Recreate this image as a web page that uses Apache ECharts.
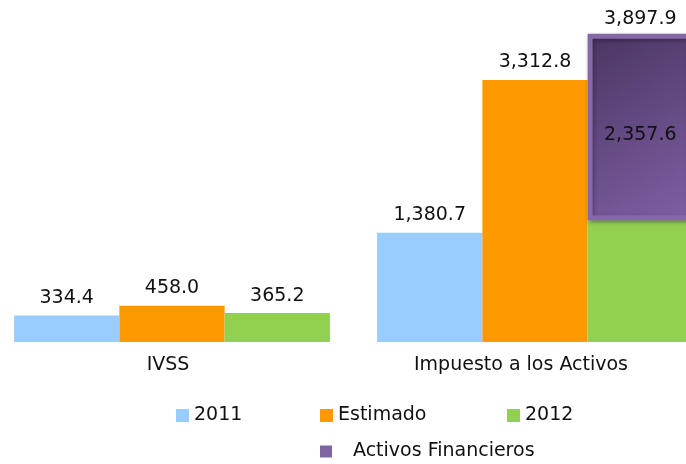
<!DOCTYPE html>
<html>
<head>
<meta charset="utf-8">
<script src="https://cdn.jsdelivr.net/npm/echarts@6/dist/echarts.min.js"></script>
<style>
  html, body { margin: 0; padding: 0; background: #fff; }
  #chart { width: 686px; height: 464px; }
</style>
</head>
<body>
<div id="chart"></div>
<script>
const categories = ['IVSS', 'Impuesto a los Activos'];
const values2011 = [334.4, 1380.7];
const valuesEstimado = [458.0, 3312.8];
const values2012 = [365.2, 1540.3];
const valuesActivos = ['-', 2357.6];

const FONT = 'DejaVu Sans';

// 1,234.5 style
const fmt = (v) => {
  const parts = Number(v).toFixed(1).split('.');
  return parts[0].replace(/\B(?=(\d{3})+(?!\d))/g, ',') + '.' + parts[1];
};

const labelStyle = {
  show: true,
  position: 'top',
  distance: 8,
  fontFamily: FONT,
  fontSize: 19,
  color: '#111',
  formatter: (p) => fmt(p.value)
};

const legendBase = {
  icon: 'rect',
  itemWidth: 13,
  itemHeight: 13,
  itemGap: 6,
  padding: 0,
  selectedMode: false,
  textStyle: { fontFamily: FONT, fontSize: 19, color: '#111' }
};

const chart = echarts.init(document.getElementById('chart'));
chart.setOption({
  animation: false,
  // categories sit on the grid edges (boundaryGap false), band = full width
  grid: { left: 172, right: 151, top: 25.6, bottom: 122 },
  legend: [
    Object.assign({}, legendBase, { left: 176, top: 406, data: ['2011'] }),
    Object.assign({}, legendBase, { left: 320, top: 406, data: ['Estimado'] }),
    Object.assign({}, legendBase, { left: 507, top: 406, data: ['2012'] }),
    Object.assign({}, legendBase, {
      left: 320, top: 442, itemWidth: 12, itemHeight: 12,
      data: [{ name: 'Activos Financieros', itemStyle: { color: '#8064a2', borderWidth: 0, shadowBlur: 0 } }],
      textStyle: { fontFamily: FONT, fontSize: 19, color: '#111', padding: [0, 0, 0, 16] }
    })
  ],
  xAxis: {
    type: 'category',
    data: categories,
    boundaryGap: false,
    axisLine: { show: false },
    axisTick: { show: false },
    axisLabel: {
      margin: 14,
      formatter: (v, i) => (i === 0 ? '{a|' + v + '}' : '{b|' + v + '}'),
      rich: {
        a: { fontFamily: FONT, fontSize: 19, color: '#111', padding: [0, 8, 0, 0] },
        b: { fontFamily: FONT, fontSize: 19, color: '#111', padding: [0, 28, 0, 0] }
      }
    }
  },
  yAxis: { type: 'value', min: 0, max: 4000, show: false, splitLine: { show: false } },
  series: [
    {
      name: '2011', type: 'bar', data: values2011, clip: false,
      barGap: '0%', barCategoryGap: '13%',
      itemStyle: { color: '#99ccff' },
      label: labelStyle
    },
    {
      name: 'Estimado', type: 'bar', data: valuesEstimado, clip: false,
      itemStyle: { color: '#ff9900' },
      label: labelStyle
    },
    {
      name: '2012', type: 'bar', stack: 's', data: values2012, clip: false,
      itemStyle: { color: '#92d050' },
      label: Object.assign({}, labelStyle, {
        formatter: (p) => (valuesActivos[p.dataIndex] === '-' ? fmt(p.value) : '')
      })
    },
    {
      name: 'Activos Financieros', type: 'bar', stack: 's', data: valuesActivos, clip: false,
      itemStyle: {
        color: new echarts.graphic.LinearGradient(0, 0, 1, 1, [
          { offset: 0, color: '#4a3562' },
          { offset: 1, color: '#7f60a4' }
        ]),
        borderColor: '#8468a8',
        borderWidth: 5,
        shadowColor: 'rgba(0,0,0,0.3)',
        shadowBlur: 4,
        shadowOffsetX: 1,
        shadowOffsetY: 2
      },
      label: Object.assign({}, labelStyle, { position: 'inside', offset: [0, 8] })
    },
    {
      // zero-height cap carrying the stacked total
      name: 'Total', type: 'bar', stack: 's', clip: false,
      data: valuesActivos.map((v) => (v === '-' ? '-' : 0)),
      itemStyle: { color: 'transparent' },
      label: Object.assign({}, labelStyle, {
        distance: 5,
        formatter: (p) => fmt(values2012[p.dataIndex] + valuesActivos[p.dataIndex])
      })
    }
  ]
});
</script>
</body>
</html>
